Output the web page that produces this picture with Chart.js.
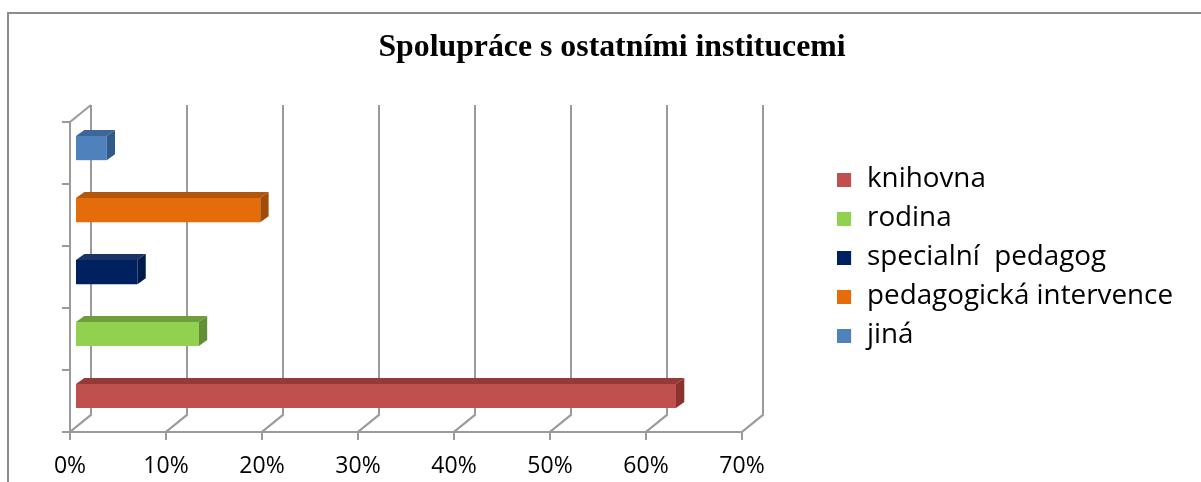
<!DOCTYPE html>
<html>
<head>
<meta charset="utf-8">
<script src="https://cdn.jsdelivr.net/npm/chart.js@4.4.1/dist/chart.umd.min.js"></script>
<style>
    html, body { margin: 0; padding: 0; background: #fff; }
    canvas { display: block; }
</style>
</head>
<body>
<canvas id="chart" width="1201" height="482"></canvas>
<script>
// data
const categories = ["knihovna", "rodina", "specialní  pedagog", "pedagogická intervence", "jiná"];
const percentages = [62.5, 12.8, 6.4, 19.2, 3.2];
const tickValues = [0, 10, 20, 30, 40, 50, 60, 70];
const tickLabels = ["0%", "10%", "20%", "30%", "40%", "50%", "60%", "70%"];

const frontColors = ["#C0504D", "#92D050", "#002060", "#E46C0A", "#4F81BD"];
const topColors = ["#953A38", "#6E9E3A", "#1A3468", "#B4560A", "#3C6798"];
const sideColors = ["#8A3331", "#628F33", "#001A4A", "#A04C08", "#325A88"];

// fake 3d geometry (offsets from the plane the bars' front faces sit on)
const FRONT = { dx: -6, dy: 4.9 };
const BACK = { dx: 15, dy: -12.1 };
const BAR_DEPTH = { dx: 8.3, dy: -6 };
const GRID_COLOR = "#9a9a9a";
const PAD = { left: 41, right: 18, top: 33, bottom: 0 };
const PLOT_LEFT = 76;
const PLOT_RIGHT = 748;
const PLOT_BOTTOM = 427;

const legendFont = { family: "Open Sans", size: 27.8 };
const tickFont = { family: "Open Sans", size: 23 };

function swatch(color) {
    const c = document.createElement("canvas");
    c.width = 16;
    c.height = 14;
    const g = c.getContext("2d");
    g.fillStyle = color;
    g.fillRect(0, 0, 14, 14);
    return c;
}

const framePlugin = {
    id: "frame",
    beforeDraw(chart) {
        const { ctx, width, height } = chart;
        ctx.save();
        ctx.fillStyle = "#fff";
        ctx.fillRect(0, 0, width, height);
        ctx.strokeStyle = "#8c8c8c";
        ctx.lineWidth = 2;
        ctx.beginPath();
        ctx.moveTo(8, height);
        ctx.lineTo(8, 13);
        ctx.lineTo(width, 13);
        ctx.stroke();
        ctx.restore();
    }
};

const wallPlugin = {
    id: "wall3d",
    beforeDatasetsDraw(chart) {
        const { ctx, chartArea, scales: { x } } = chart;
        const n = categories.length;
        const fy0 = chartArea.bottom + FRONT.dy, fy1 = chartArea.top + FRONT.dy;
        const by0 = chartArea.bottom + BACK.dy, by1 = chartArea.top + BACK.dy;
        const fl = x.getPixelForValue(tickValues[0]) + FRONT.dx;
        const fr = x.getPixelForValue(tickValues[tickValues.length - 1]) + FRONT.dx;
        const bl = x.getPixelForValue(tickValues[0]) + BACK.dx;

        ctx.save();
        ctx.strokeStyle = GRID_COLOR;
        ctx.lineWidth = 2;
        ctx.beginPath();
        tickValues.forEach(v => {
            const px = x.getPixelForValue(v);
            const fx = px + FRONT.dx, bx = px + BACK.dx;
            ctx.moveTo(bx, by1);
            ctx.lineTo(bx, by0);
            ctx.lineTo(fx, fy0);
            ctx.moveTo(fx, fy0);
            ctx.lineTo(fx, fy0 + 8);
        });
        ctx.moveTo(fl - 8, fy0);
        ctx.lineTo(fr, fy0);
        ctx.moveTo(fl, fy0);
        ctx.lineTo(fl, fy1);
        ctx.lineTo(bl, by1);
        for (let k = 0; k < n; k++) {
            const y = fy1 + k * (fy0 - fy1) / n;
            ctx.moveTo(fl - 8, y);
            ctx.lineTo(fl, y);
        }
        ctx.stroke();
        ctx.restore();
    },
    afterDatasetsDraw(chart) {
        const { ctx } = chart;
        const meta = chart.getDatasetMeta(0);
        ctx.save();
        meta.data.forEach((bar, i) => {
            const { x, y, base, height } = bar.getProps(["x", "y", "base", "height"], true);
            const top = y - height / 2, bottom = y + height / 2;

            ctx.fillStyle = topColors[i];
            ctx.beginPath();
            ctx.moveTo(base, top);
            ctx.lineTo(base + BAR_DEPTH.dx, top + BAR_DEPTH.dy);
            ctx.lineTo(x + BAR_DEPTH.dx, top + BAR_DEPTH.dy);
            ctx.lineTo(x, top);
            ctx.closePath();
            ctx.fill();

            ctx.fillStyle = sideColors[i];
            ctx.beginPath();
            ctx.moveTo(x, top);
            ctx.lineTo(x + BAR_DEPTH.dx, top + BAR_DEPTH.dy);
            ctx.lineTo(x + BAR_DEPTH.dx, bottom + BAR_DEPTH.dy);
            ctx.lineTo(x, bottom);
            ctx.closePath();
            ctx.fill();
        });
        ctx.restore();
    }
};

new Chart(document.getElementById("chart"), {
    type: "bar",
    data: {
        labels: categories,
        datasets: [{
            data: percentages,
            backgroundColor: frontColors,
            borderWidth: 0,
            barPercentage: 0.39,
            categoryPercentage: 1
        }]
    },
    options: {
        indexAxis: "y",
        responsive: false,
        animation: false,
        events: [],
        layout: { padding: PAD },
        plugins: {
            title: {
                display: true,
                text: "Spolupráce s ostatními institucemi",
                color: "#000",
                font: { family: "Liberation Serif", size: 31.8, weight: "bold", lineHeight: 1 },
                padding: { top: -1, bottom: 53.3 }
            },
            legend: {
                display: true,
                position: "right",
                maxWidth: 600,
                labels: {
                    color: "#000",
                    font: legendFont,
                    usePointStyle: true,
                    pointStyleWidth: 16,
                    boxHeight: 14,
                    padding: 11.2,
                    generateLabels: () => categories.map((c, i) => ({
                        text: c,
                        fillStyle: frontColors[i],
                        strokeStyle: frontColors[i],
                        lineWidth: 0,
                        pointStyle: swatch(frontColors[i]),
                        hidden: false,
                        index: i,
                        fontColor: "#000"
                    }))
                }
            },
            tooltip: { enabled: false }
        },
        scales: {
            x: {
                min: tickValues[0],
                max: tickValues[tickValues.length - 1],
                grid: { display: false, drawTicks: false },
                border: { display: false },
                ticks: {
                    stepSize: 10,
                    color: "#000",
                    font: tickFont,
                    padding: 25.3,
                    labelOffset: FRONT.dx,
                    maxRotation: 0,
                    callback: (v, i) => tickLabels[i]
                },
                afterFit: (s) => { s.height = s.chart.height - PAD.bottom - PLOT_BOTTOM; }
            },
            y: {
                reverse: true,
                grid: { display: false },
                border: { display: false },
                ticks: { display: false },
                afterFit: (s) => { s.width = PLOT_LEFT - PAD.left; }
            },
            y2: {
                type: "linear",
                position: "right",
                grid: { display: false },
                border: { display: false },
                ticks: { display: false },
                afterFit: (s) => { s.width = s.chart.width - PAD.right - s.chart.legend.width - PLOT_RIGHT; }
            }
        }
    },
    plugins: [framePlugin, wallPlugin]
});
</script>
</body>
</html>
